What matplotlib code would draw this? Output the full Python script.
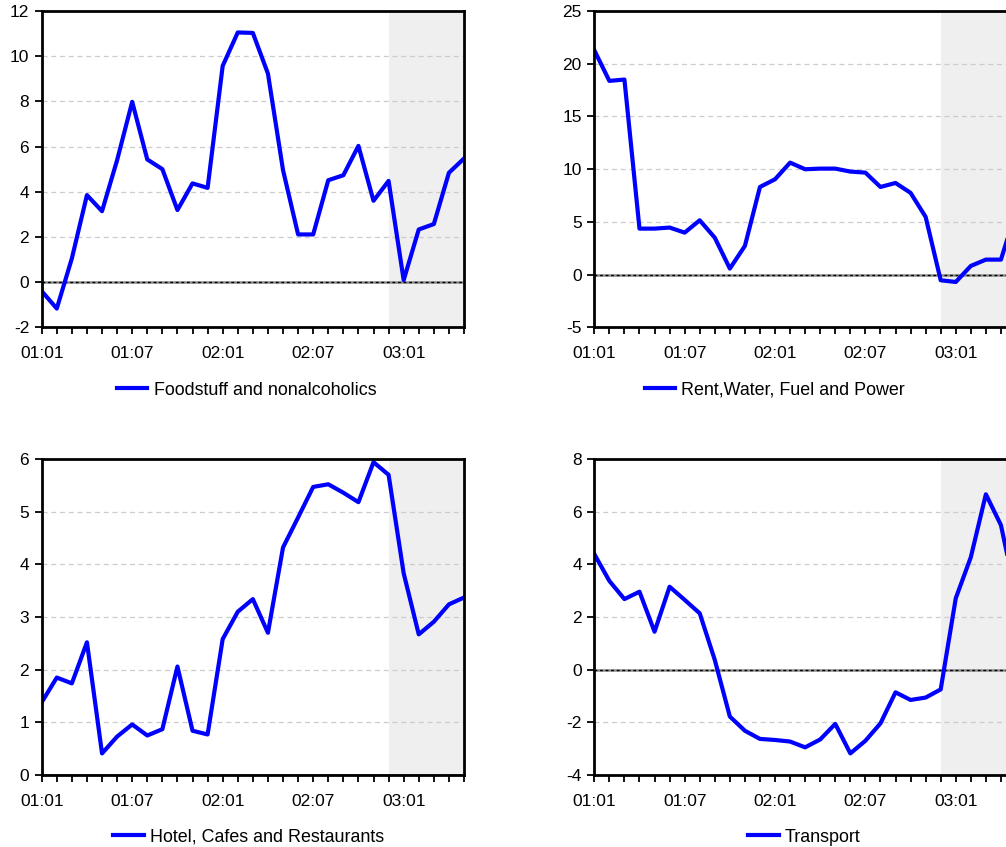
import numpy as np
import matplotlib
matplotlib.use("Agg")
import matplotlib.pyplot as plt

plt.rcParams['font.family'] = ['Liberation Sans', 'DejaVu Sans']
plt.rcParams['axes.unicode_minus'] = False

# months 01:01 .. 03:05
months = [f"{y:02d}:{m:02d}" for y in (1, 2, 3) for m in range(1, 13)][:29]
label_every = 6
shade_start = 23  # 02:12

food = [-0.4, -1.17, 1.05, 3.85, 3.14, 5.4, 7.98, 5.43, 5.0, 3.19, 4.37, 4.17,
        9.57, 11.05, 11.03, 9.23, 4.96, 2.11, 2.11, 4.51, 4.73, 6.03, 3.6, 4.48,
        0.09, 2.33, 2.57, 4.84, 5.47]
rent = [21.28, 18.37, 18.5, 4.36, 4.36, 4.46, 3.98, 5.15, 3.5, 0.57, 2.72, 8.31,
        9.04, 10.62, 9.99, 10.05, 10.05, 9.77, 9.67, 8.31, 8.69, 7.75, 5.47, -0.54,
        -0.7, 0.82, 1.42, 1.42, 6.0]
hotel = [1.38, 1.85, 1.74, 2.52, 0.41, 0.73, 0.96, 0.75, 0.87, 2.06, 0.84, 0.77,
         2.58, 3.1, 3.34, 2.7, 4.32, 4.89, 5.47, 5.52, 5.36, 5.18, 5.94, 5.7,
         3.83, 2.67, 2.91, 3.24, 3.37]
transport = [4.39, 3.37, 2.68, 2.96, 1.44, 3.15, 2.65, 2.14, 0.37, -1.78, -2.32, -2.63,
             -2.67, -2.73, -2.95, -2.65, -2.06, -3.18, -2.7, -2.04, -0.86, -1.15, -1.06, -0.75,
             2.71, 4.27, 6.66, 5.49, 2.8]

panels = [
    ("Foodstuff and nonalcoholics", food, (-2, 12), 2),
    ("Rent,Water, Fuel and Power", rent, (-5, 25), 5),
    ("Hotel, Cafes and Restaurants", hotel, (0, 6), 1),
    ("Transport", transport, (-4, 8), 2),
]

W, H = 1006, 847
fig = plt.figure(figsize=(W / 100, H / 100), dpi=100)

# axes boxes in pixels: left, top, right, bottom
boxes = [(41.7, 11, 464, 327.3), (594.3, 11, 1016, 327.3),
         (41.7, 459, 464, 775), (594.3, 459, 1016, 775)]
legend_pos = [(246.5, 390), (775, 390), (248.5, 837), (804.5, 837)]

x = np.arange(len(months))
for (name, vals, ylim, step), (l, t, r, b), (lx, ly) in zip(panels, boxes, legend_pos):
    ax = fig.add_axes([l / W, 1 - b / H, (r - l) / W, (b - t) / H])
    ax.axvspan(shade_start, x[-1], color='#efefef', lw=0, zorder=0)
    yt = np.arange(ylim[0], ylim[1] + step / 2, step)
    for v in yt[1:-1]:
        if v != 0:
            ax.axhline(v, color='#cccccc', lw=0.9, ls=(0, (4, 3)), zorder=1)
    ax.axhline(0, color='#8a8a8a', lw=1.8, zorder=2)
    ax.axhline(0, color='black', lw=1.0, ls=(0, (2, 2)), zorder=2)
    ax.plot(x, vals, color='#0000ff', lw=3, label=name, zorder=3)
    ax.set_xlim(x[0], x[-1])
    ax.set_ylim(*ylim)
    ax.set_yticks(yt)
    ax.set_yticklabels([f"{v:g}" for v in yt])
    ax.set_xticks(x)
    ax.set_xticklabels([m if i % label_every == 0 else "" for i, m in enumerate(months)])
    for s in ax.spines.values():
        s.set_linewidth(2.0)
        s.set_zorder(5)
    ax.tick_params(axis='both', direction='out', width=1.3, length=5, labelsize=12.5)
    ax.tick_params(axis='y', pad=4)
    ax.tick_params(axis='x', pad=8.5)
    leg = fig.legend(handles=ax.get_lines()[-1:], loc='center',
                     bbox_to_anchor=(lx / W, 1 - ly / H), frameon=False,
                     fontsize=12.9, handlelength=1.7, handletextpad=0.35)
    for h in leg.get_lines():
        h.set_linewidth(3)

fig.savefig("out.png", dpi=100)
